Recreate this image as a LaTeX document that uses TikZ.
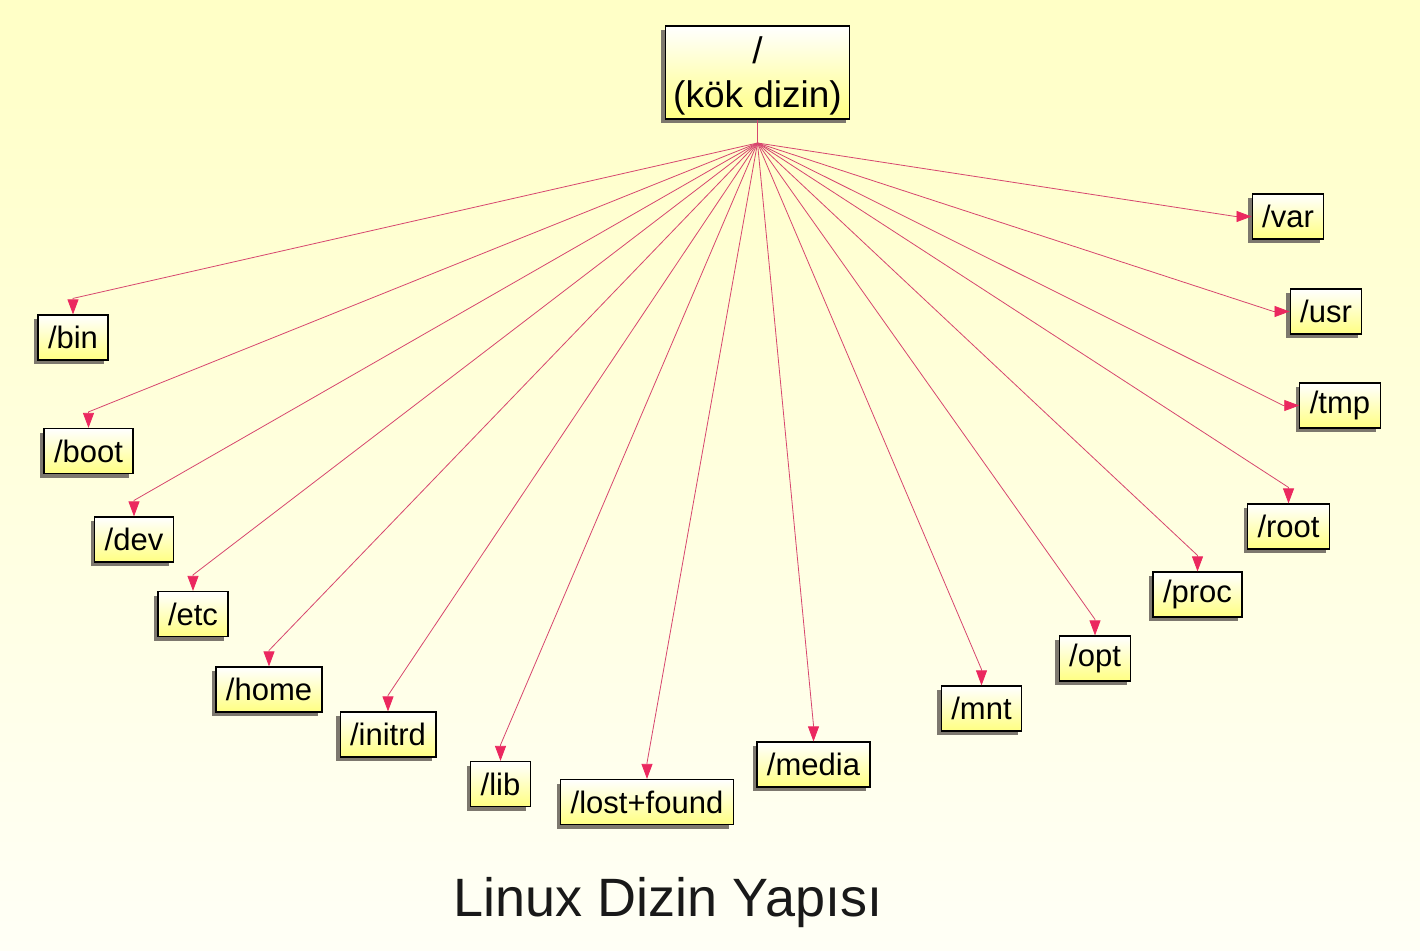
\documentclass[tikz,border=0pt]{standalone}
\usepackage{fontspec}
\setmainfont{Liberation Sans}
\usepackage{tikz}
\usetikzlibrary{
  arrows.meta,
  shadows,
  positioning
}
\usepackage{xcolor}
\definecolor{bgtop}{RGB}{255, 255, 198}
\definecolor{bgbot}{RGB}{255, 255, 246}
\definecolor{boxtop}{RGB}{255, 255, 255}
\definecolor{boxbot}{RGB}{255, 255, 130}
\definecolor{shadowgray}{RGB}{125, 120, 110}
\definecolor{linkred}{RGB}{215, 70, 110}
\definecolor{tipred}{RGB}{235, 40, 95}
\tikzset{
  % Dizin kutulari
  dirbox/.style   = {draw=black, line width=1.2pt, top color=boxtop, bottom color=boxbot,
                     drop shadow={shadow xshift=-4pt, shadow yshift=-4pt, fill=shadowgray, opacity=1},
                     inner xsep=10pt, inner ysep=0pt, minimum height=45pt,
                     font=\fontsize{31}{37}\selectfont},
  rootbox/.style  = {dirbox, align=center, inner xsep=8pt, minimum height=93pt,
                     font=\fontsize{37}{44}\selectfont},
  % Baglanti oklari
  linkline/.style = {draw=linkred, line width=0.8pt,
                     -{Triangle[length=15pt, width=11pt, color=tipred, fill=tipred]}},
  stemline/.style = {draw=linkred, line width=0.8pt},
  % Baslik
  titletext/.style= {font=\fontsize{54}{62}\selectfont, text=black!90},
}
\begin{document}
\begin{tikzpicture}[x=1pt, y=-1pt]
  % Arka plan
  \shade[top color=bgtop, bottom color=bgbot] (0,0) rectangle (1420,950);
  \useasboundingbox (0,0) rectangle (1420,950);
  % Kok dizin
  \node[rootbox] (kok) at (757.5,72.5) {\rule{0pt}{34pt}/\\(kök dizin)};
  \coordinate (hub) at (757.5,143);
  % Alt dizinler
  \node[dirbox] (bin)    at (73,337.5)    {/bin};
  \node[dirbox] (boot)   at (88.5,451)    {/boot};
  \node[dirbox] (dev)    at (134,539.5)   {/dev};
  \node[dirbox] (etc)    at (193,614)     {/etc};
  \node[dirbox] (home)   at (269,689.5)   {/home};
  \node[dirbox] (initrd) at (388,734.5)   {/initrd};
  \node[dirbox] (lib)    at (500.5,784)   {/lib};
  \node[dirbox] (lost)   at (647,802)     {/lost+found};
  \node[dirbox] (media)  at (813.5,764.5) {/media};
  \node[dirbox] (mnt)    at (981.5,708.5) {/mnt};
  \node[dirbox] (opt)    at (1095,658.5)  {/opt};
  \node[dirbox] (proc)   at (1197.5,594.5){/proc};
  \node[dirbox] (rootd)  at (1288.5,526.5){/root};
  \node[dirbox] (tmp)    at (1340,405.5)  {/tmp};
  \node[dirbox] (usr)    at (1326,311.5)  {/usr};
  \node[dirbox] (var)    at (1288,216.5)  {/var};
  % Oklar
  \draw[stemline] (kok.south) -- (hub);
  \foreach \d in {bin,boot,dev,etc,home,initrd,lib,lost,media,mnt,opt,proc,rootd}
    \draw[linkline] (hub) -- ([yshift=16pt]\d.north) -- (\d.north);
  \foreach \d in {tmp,usr,var}
    \draw[linkline] (hub) -- ([xshift=-16pt]\d.west) -- (\d.west);
  % Baslik
  \node[titletext] (baslik) at (668,903) {Linux Dizin Yapısı};
\end{tikzpicture}
\end{document}
